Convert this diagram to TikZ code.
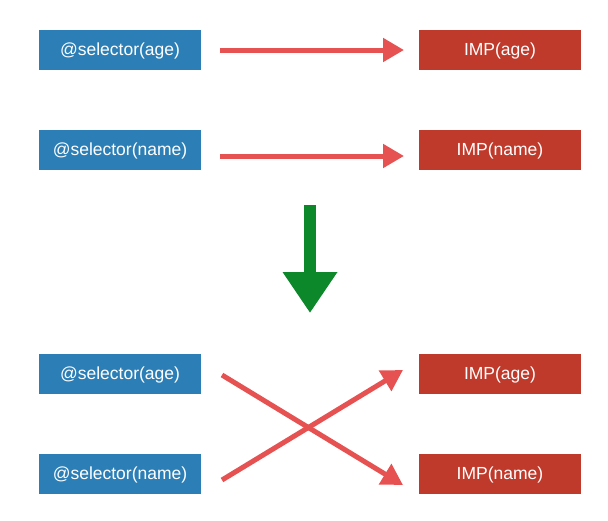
\documentclass[tikz,border=0pt]{standalone}
\usepackage{fontspec}
\setmainfont{Liberation Sans}
\usetikzlibrary{arrows.meta}
\definecolor{selblue}{RGB}{44,127,182}
\definecolor{impred}{RGB}{192,58,44}
\definecolor{arrred}{RGB}{230,82,82}
\definecolor{arrgreen}{RGB}{12,135,42}
\tikzset{
  selbox/.style={fill=selblue, text=white, minimum width=162pt, minimum height=40pt, inner sep=0pt, text height=13.5pt, text depth=2.5pt, font=\fontsize{17.5}{19}\selectfont},
  impbox/.style={selbox, fill=impred},
  redarrow/.style={draw=arrred, line width=5pt, -{Triangle[length=21pt,width=23pt]}},
  greenarrow/.style={draw=arrgreen, line width=12pt, -{Triangle[length=41pt,width=52pt]}}
}
\begin{document}
\begin{tikzpicture}[x=1pt,y=-1pt]
\useasboundingbox (0,0) rectangle (608,520);
% top section
\node[selbox] (s1) at (120,50) {@selector(age)};
\node[impbox] (i1) at (500,50) {IMP(age)};
\node[selbox] (s2) at (120,150) {@selector(name)};
\node[impbox] (i2) at (500,150) {IMP(name)};
% bottom section
\node[selbox] (s3) at (120,373.5) {@selector(age)};
\node[impbox] (i3) at (500,373.5) {IMP(age)};
\node[selbox] (s4) at (120,473.5) {@selector(name)};
\node[impbox] (i4) at (500,473.5) {IMP(name)};
% arrow end points
\coordinate (a1s) at (220,50);
\coordinate (a1e) at (404,50);
\coordinate (a2s) at (220,156);
\coordinate (a2e) at (404,156);
\coordinate (gs) at (310,205);
\coordinate (ge) at (310,313);
\coordinate (c1s) at (222,375);
\coordinate (c1e) at (403,485);
\coordinate (c2s) at (222,480);
\coordinate (c2e) at (403,370);
\draw[redarrow] (a1s) -- (a1e);
\draw[redarrow] (a2s) -- (a2e);
\draw[greenarrow] (gs) -- (ge);
\draw[redarrow] (c1s) -- (c1e);
\draw[redarrow] (c2s) -- (c2e);
\end{tikzpicture}
\end{document}
